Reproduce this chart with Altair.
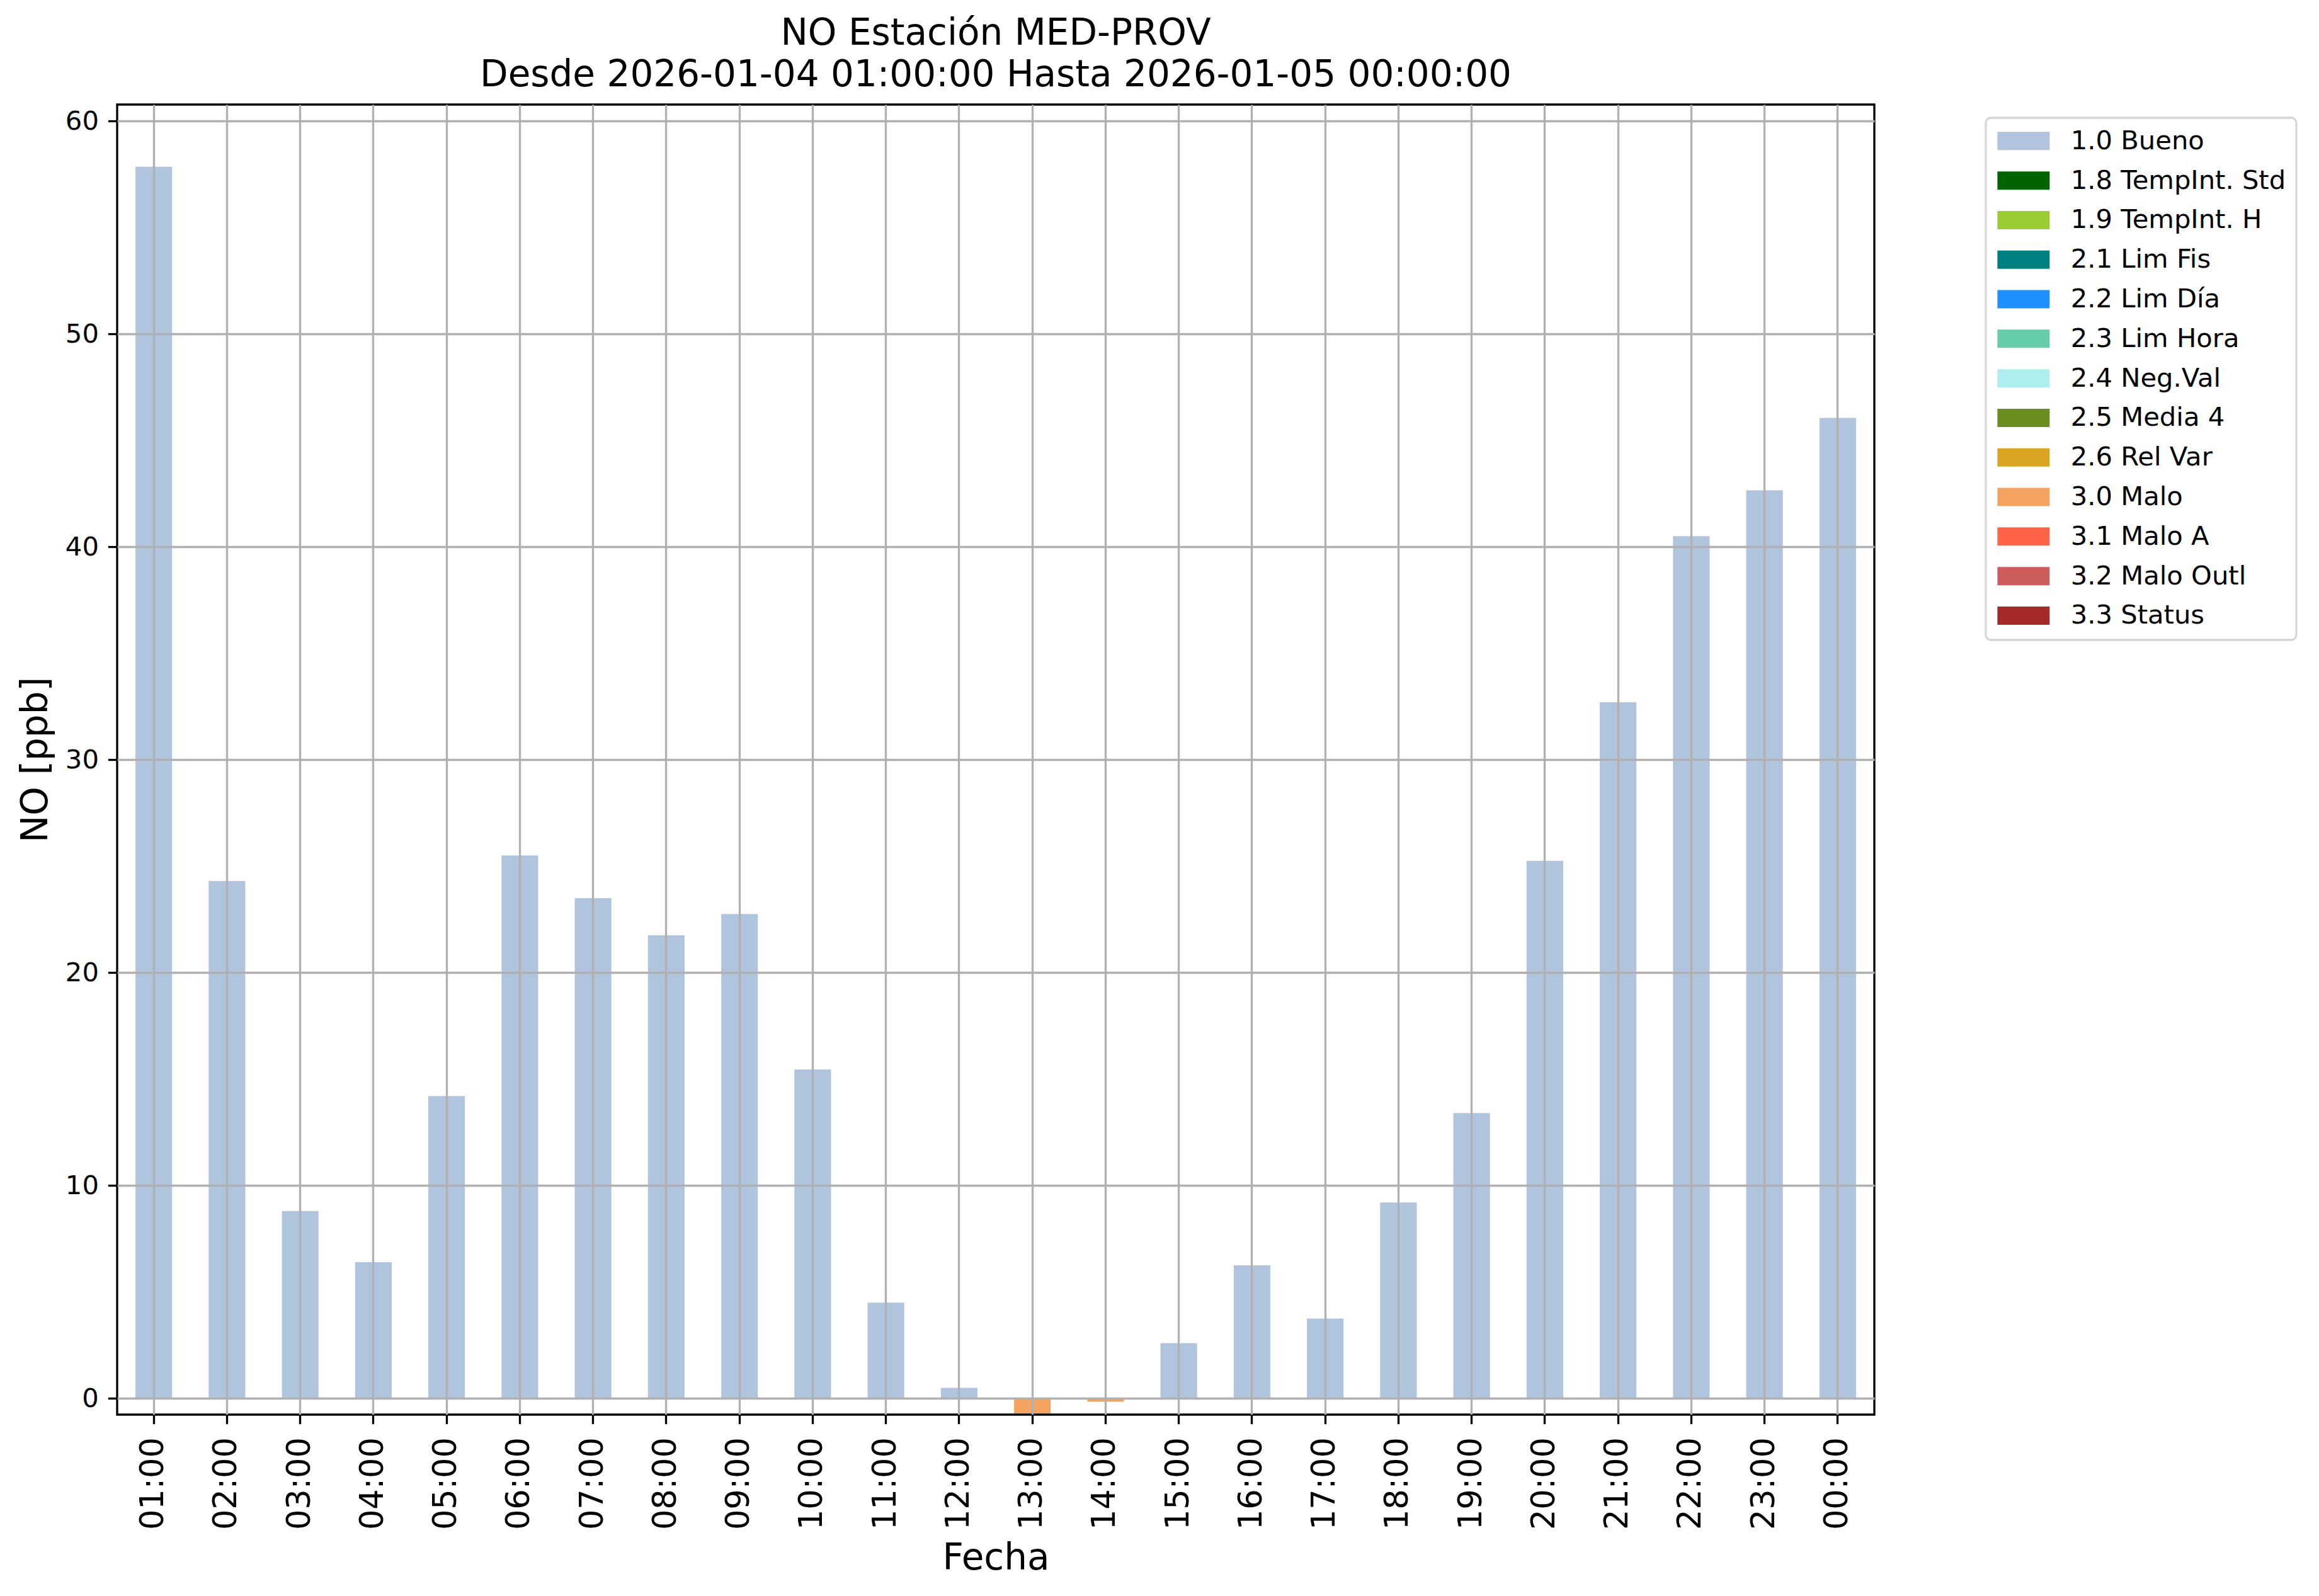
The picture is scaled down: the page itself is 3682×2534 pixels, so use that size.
import altair as alt
import pandas as pd

# ---- data ----
horas = ["01:00", "02:00", "03:00", "04:00", "05:00", "06:00", "07:00", "08:00",
         "09:00", "10:00", "11:00", "12:00", "13:00", "14:00", "15:00", "16:00",
         "17:00", "18:00", "19:00", "20:00", "21:00", "22:00", "23:00", "00:00"]
valores = [57.85, 24.3, 8.8, 6.4, 14.2, 25.5, 23.5, 21.75,
           22.75, 15.45, 4.5, 0.5, -0.7, -0.15, 2.6, 6.25,
           3.75, 9.2, 13.4, 25.25, 32.7, 40.5, 42.65, 46.05]
banderas = (["1.0 Bueno"] * 12 + ["3.0 Malo"] * 2 + ["1.0 Bueno"] * 10)

categorias = ["1.0 Bueno", "1.8 TempInt. Std", "1.9 TempInt. H", "2.1 Lim Fis",
              "2.2 Lim Día", "2.3 Lim Hora", "2.4 Neg.Val", "2.5 Media 4",
              "2.6 Rel Var", "3.0 Malo", "3.1 Malo A", "3.2 Malo Outl", "3.3 Status"]
colores = ["#B0C4DE", "#006400", "#9ACD32", "#008080", "#1E90FF", "#66CDAA",
           "#AFEEEE", "#6B8E23", "#DAA520", "#F4A460", "#FF6347", "#CD5C5C", "#A52A2A"]

y_ticks = [0, 10, 20, 30, 40, 50, 60]
titulo = ["NO Estación MED-PROV", "Desde 2026-01-04 01:00:00 Hasta 2026-01-05 00:00:00"]

df = pd.DataFrame({"hora": horas, "valor": valores, "bandera": banderas})

FONT = "DejaVu Sans"
W, H = 2790, 2080

chart = alt.Chart(df).mark_bar(opacity=1).encode(
    x=alt.X("hora:N", sort=horas,
            scale=alt.Scale(paddingInner=0.5, paddingOuter=0.25),
            axis=alt.Axis(title="Fecha", labelAngle=270, labelFontSize=51,
                          labelPadding=21, tickSize=14.6, tickWidth=3.3,
                          tickColor="black", domain=False, grid=True,
                          gridColor="#b0b0b0", gridWidth=3.3, zindex=1,
                          labelColor="black", labelFont=FONT,
                          titleFont=FONT, titleFontSize=58, titleFontWeight="normal",
                          titleColor="black", titleX=W / 2, titleY=245,
                          titleBaseline="alphabetic", titleAlign="center")),
    y=alt.Y("valor:Q",
            scale=alt.Scale(domain=[-0.76, 60.77], nice=False, zero=False),
            axis=alt.Axis(title="NO [ppb]", values=y_ticks, labelFontSize=41.7,
                          labelPadding=15, tickSize=14.6, tickWidth=3.3,
                          tickColor="black", domain=False, grid=True,
                          gridColor="#b0b0b0", gridWidth=3.3, zindex=1,
                          labelColor="black", labelFont=FONT,
                          titleFont=FONT, titleFontSize=58, titleFontWeight="normal",
                          titleColor="black", titleAngle=270, titleX=-112,
                          titleY=H / 2, titleBaseline="alphabetic",
                          titleAlign="center")),
    y2=alt.datum(0),
    color=alt.Color("bandera:N",
                    scale=alt.Scale(domain=categorias, range=colores),
                    legend=alt.Legend(title=None, orient="none", legendX=2967, legendY=21,
                                      symbolType="M-2.86,-1L2.86,-1L2.86,1L-2.86,1Z",
                                      symbolSize=841, symbolStrokeWidth=0,
                                      symbolOpacity=1, labelFontSize=41.7,
                                      labelFont=FONT, labelColor="black",
                                      labelLimit=0, rowPadding=19.8, padding=16,
                                      symbolOffset=23, labelOffset=54,
                                      fillColor="white", strokeColor="#d6d6d6",
                                      cornerRadius=8)),
).properties(
    width=W, height=H,
    title=alt.TitleParams(text=titulo, fontSize=58, font=FONT, fontWeight="normal",
                          color="black", lineHeight=66, anchor="middle", offset=17),
    autosize=alt.AutoSizeParams(type="none"),
    padding={"left": 178, "top": 158, "right": 690, "bottom": 270},
).configure_view(
    stroke="black", strokeWidth=3.3
).configure_legend(
    strokeWidth=3.3
)

chart.save("out.html", embed_options={"renderer": "svg", "actions": False})
